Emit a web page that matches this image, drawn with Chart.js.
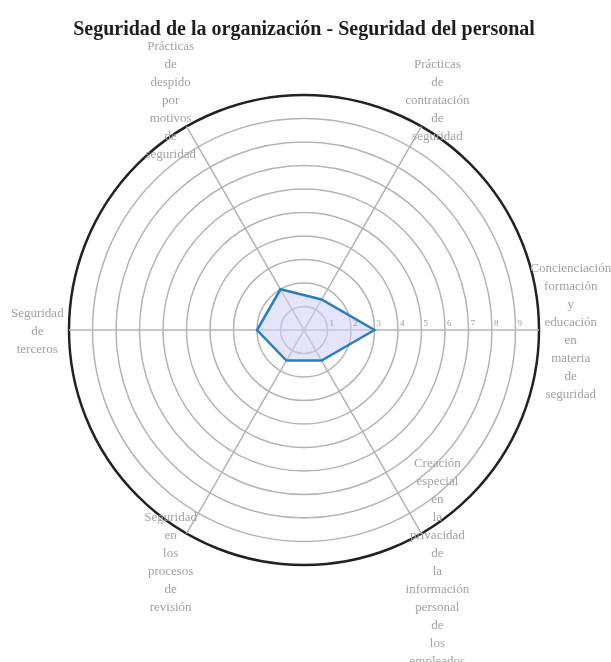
<!DOCTYPE html>
<html>
<head>
<meta charset="utf-8">
<script src="https://cdn.jsdelivr.net/npm/chart.js@4"></script>
<style>
    html, body { margin: 0; padding: 0; background: #fff; }
    #wrap { width: 611px; height: 662px; }
</style>
</head>
<body>
<div id="wrap"><canvas id="chart-radar"></canvas></div>
<script>
// Categories, clockwise starting at the right-hand axis
const CATEGORIES = [
    'Concienciación formación y educación en materia de seguridad',
    'Creación especial en la privacidad de la información personal de los empleados',
    'Seguridad en los procesos de revisión',
    'Seguridad de terceros',
    'Prácticas de despido por motivos de seguridad',
    'Prácticas de contratación de seguridad',
];
const SCORES = [3, 1.5, 1.5, 2, 2, 1.5];
const TICK_LABELS = [1, 2, 3, 4, 5, 6, 7, 8, 9];

const SERIF = "'Liberation Serif', 'DejaVu Serif', serif";

// Tick numbers drawn upright along the right-hand spoke
const tickLabelsPlugin = {
    id: 'tickLabels',
    afterDatasetsDraw(chart) {
        const scale = chart.scales.r;
        const ctx = chart.ctx;
        ctx.save();
        ctx.font = `9px ${SERIF}`;
        ctx.fillStyle = '#9a9a9a';
        ctx.textAlign = 'left';
        ctx.textBaseline = 'middle';
        TICK_LABELS.forEach(v => {
            const p = scale.getPointPositionForValue(0, v);
            ctx.fillText(String(v), p.x + 2, p.y - 6);
        });
        ctx.restore();
    }
};

// Category labels, one word per line, centred outside the outer ring
const pointLabelsPlugin = {
    id: 'centredPointLabels',
    afterDraw(chart) {
        const scale = chart.scales.r;
        const ctx = chart.ctx;
        const lineH = 18;
        ctx.save();
        ctx.font = `13px ${SERIF}`;
        ctx.fillStyle = '#a2a2a2';
        ctx.textAlign = 'center';
        ctx.textBaseline = 'middle';
        CATEGORIES.forEach((label, i) => {
            const p = scale.getPointPositionForValue(i, 11.35);
            const lines = label.split(' ');
            const y0 = p.y + 2 - (lines.length - 1) * lineH / 2;
            lines.forEach((ln, k) => ctx.fillText(ln, p.x, y0 + k * lineH));
        });
        ctx.restore();
    }
};

new Chart(document.getElementById('chart-radar'), {
    type: 'radar',
    data: {
        labels: CATEGORIES,
        datasets: [{
            data: SCORES,
            borderColor: '#2a7fba',
            backgroundColor: 'rgba(205, 205, 245, 0.55)',
            borderWidth: 2.5,
            pointRadius: 0,
            fill: true,
        }],
    },
    options: {
        responsive: true,
        maintainAspectRatio: false,
        animation: false,
        layout: { padding: { left: 69, right: 72, top: 0, bottom: 97 } },
        plugins: {
            legend: { display: false },
            tooltip: { enabled: false },
            title: {
                display: true,
                text: 'Seguridad de la organización - Seguridad del personal',
                color: '#1e1e1e',
                font: { family: SERIF, size: 20, weight: 'bold' },
                padding: { top: 18, bottom: 53 },
            },
        },
        scales: {
            r: {
                min: 0,
                max: 10,
                startAngle: 90,
                ticks: { stepSize: 1, display: false },
                pointLabels: { display: false },
                grid: {
                    circular: true,
                    color: c => c.tick && c.tick.value === 10 ? '#222' : '#b4b4b4',
                    lineWidth: c => c.tick && c.tick.value === 10 ? 2.5 : 1.5,
                },
                angleLines: { color: '#b4b4b4', lineWidth: 1.5 },
            },
        },
    },
    plugins: [tickLabelsPlugin, pointLabelsPlugin],
});
</script>
</body>
</html>
